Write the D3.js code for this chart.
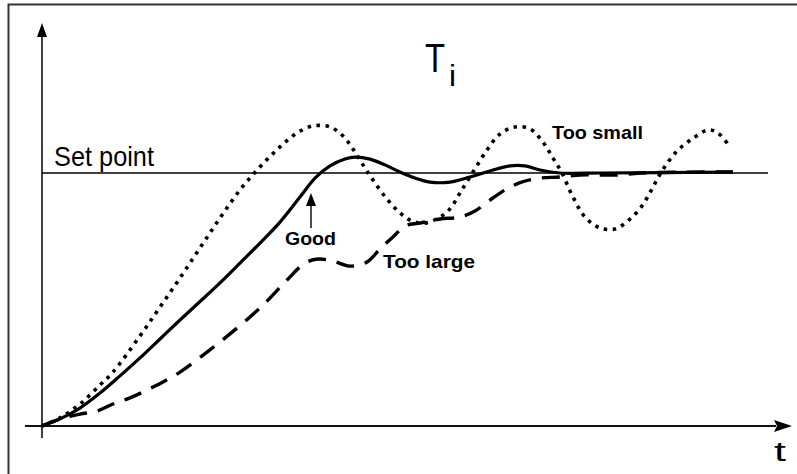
<!DOCTYPE html>
<html><head><meta charset="utf-8">
<script src="https://cdn.jsdelivr.net/npm/d3@7"></script>
<style>
html,body{margin:0;padding:0;background:#fff;overflow:hidden;}
svg{display:block;font-family:"Liberation Sans",Arial,sans-serif;}
</style></head>
<body><div id="chart"></div>
<script>
// ---- data (time in arbitrary units, response relative to set point) ----
const setPoint = 1;
const goodT = [0,18,38,58,78,98,118,138,158,178,198,218,238,258,273,288,303,313,328,343,358,373,388,408,428,448,468,483,498,518,558,691];
const goodY = [0,0.028,0.071,0.130,0.198,0.269,0.344,0.419,0.492,0.566,0.644,0.723,0.806,0.905,0.980,1.028,1.055,1.063,1.055,1.032,1.004,0.980,0.964,0.964,0.984,1.008,1.028,1.028,1.012,1.000,1.000,1.004];
const smallT = [0,18,38,58,71,98,118,138,158,178,198,218,238,255,271,288,301,311,321,331,345,358,370,383,398,408,418,431,445,458,473,488,501,511,520,530,543,558,573,588,600,610,620,635,650,666,676,688];
const smallY = [0,0.032,0.087,0.162,0.213,0.356,0.470,0.585,0.704,0.822,0.933,1.024,1.103,1.158,1.186,1.182,1.146,1.095,1.032,0.972,0.897,0.842,0.810,0.802,0.826,0.858,0.921,1.004,1.091,1.154,1.182,1.174,1.122,1.059,1.000,0.913,0.826,0.783,0.779,0.818,0.870,0.937,1.008,1.087,1.134,1.170,1.158,1.103];
const largeT = [0,18,38,55,71,88,105,121,138,165,195,221,245,263,276,291,308,325,338,351,363,378,398,418,433,448,463,478,498,518,538,558,578,598,691];
const largeY = [0,0.028,0.047,0.059,0.087,0.111,0.142,0.174,0.213,0.292,0.387,0.478,0.577,0.644,0.660,0.652,0.632,0.648,0.700,0.747,0.791,0.802,0.818,0.826,0.850,0.893,0.933,0.962,0.980,0.984,0.992,0.992,0.992,1.000,1.004];
const labels = {title:"T", sub:"i", setpoint:"Set point", good:"Good", large:"Too large", small:"Too small", axis:"t"};

const W = 797, H = 474;
const svg = d3.select("#chart").append("svg").attr("width", W).attr("height", H);

const x = d3.scaleLinear().domain([0, 750]).range([42, 792]);
const y = d3.scaleLinear().domain([0, 1]).range([426, 173]);

// frame
svg.append("rect").attr("x", 8.5).attr("y", 4.5).attr("width", 820).attr("height", 500)
  .attr("fill", "none").attr("stroke", "#333").attr("stroke-width", 2);

// axes
const ax = svg.append("g").attr("stroke", "#111").attr("fill", "none");
ax.append("line").attr("x1", x(0)).attr("x2", x(0)).attr("y1", y(0) + 12).attr("y2", 36)
  .attr("stroke-width", 1.6);
ax.append("line").attr("x1", x(0) - 17).attr("x2", x(734)).attr("y1", y(0)).attr("y2", y(0))
  .attr("stroke-width", 1.8);
svg.append("path").attr("d", `M${x(0)},23 L${x(0)-5},37 L${x(0)+5},37 Z`).attr("fill", "#000");
svg.append("path").attr("d", `M${x(750)},${y(0)} L${x(732)},${y(0)-6} L${x(735)},${y(0)} L${x(732)},${y(0)+6} Z`).attr("fill", "#000");

// set point line
svg.append("line").attr("x1", x(0)).attr("x2", x(726)).attr("y1", y(setPoint)).attr("y2", y(setPoint))
  .attr("stroke", "#000").attr("stroke-width", 1.3);

const line = d3.line().x(d => x(d[0])).y(d => y(d[1])).curve(d3.curveCatmullRom.alpha(0.5));
const zip = (a, b) => a.map((v, i) => [v, b[i]]);

svg.append("path").attr("d", line(zip(largeT, largeY))).attr("fill", "none")
  .attr("stroke", "#000").attr("stroke-width", 3.4).attr("stroke-dasharray", "18,11");
svg.append("path").attr("d", line(zip(smallT, smallY))).attr("fill", "none")
  .attr("stroke", "#000").attr("stroke-width", 3.6).attr("stroke-dasharray", "3.5,5.5");
svg.append("path").attr("d", line(zip(goodT, goodY))).attr("fill", "none")
  .attr("stroke", "#000").attr("stroke-width", 3.2);

// annotation arrow for "Good"
svg.append("line").attr("x1", 311).attr("x2", 311).attr("y1", 228).attr("y2", 204)
  .attr("stroke", "#000").attr("stroke-width", 1.4);
svg.append("path").attr("d", "M311,193 L306,206 L316,206 Z").attr("fill", "#000");

// texts
const txt = (s, tx, ty, size, weight, len) => {
  const t = svg.append("text").attr("x", tx).attr("y", ty).attr("font-size", size)
    .attr("font-weight", weight).attr("fill", "#000").text(s);
  if (len) t.attr("textLength", len).attr("lengthAdjust", "spacingAndGlyphs");
  return t;
};
txt(labels.title, 425, 72, 41, "normal", 20);
txt(labels.sub, 449, 86, 30, "normal", 7);
txt(labels.setpoint, 54, 166, 28, "normal", 100);
txt(labels.good, 285, 245, 19, "bold", 51);
txt(labels.large, 383, 268, 19, "bold", 92);
txt(labels.small, 552, 139, 19, "bold", 91);
txt(labels.axis, 774, 461, 27, "normal", 12);
</script>
</body></html>
